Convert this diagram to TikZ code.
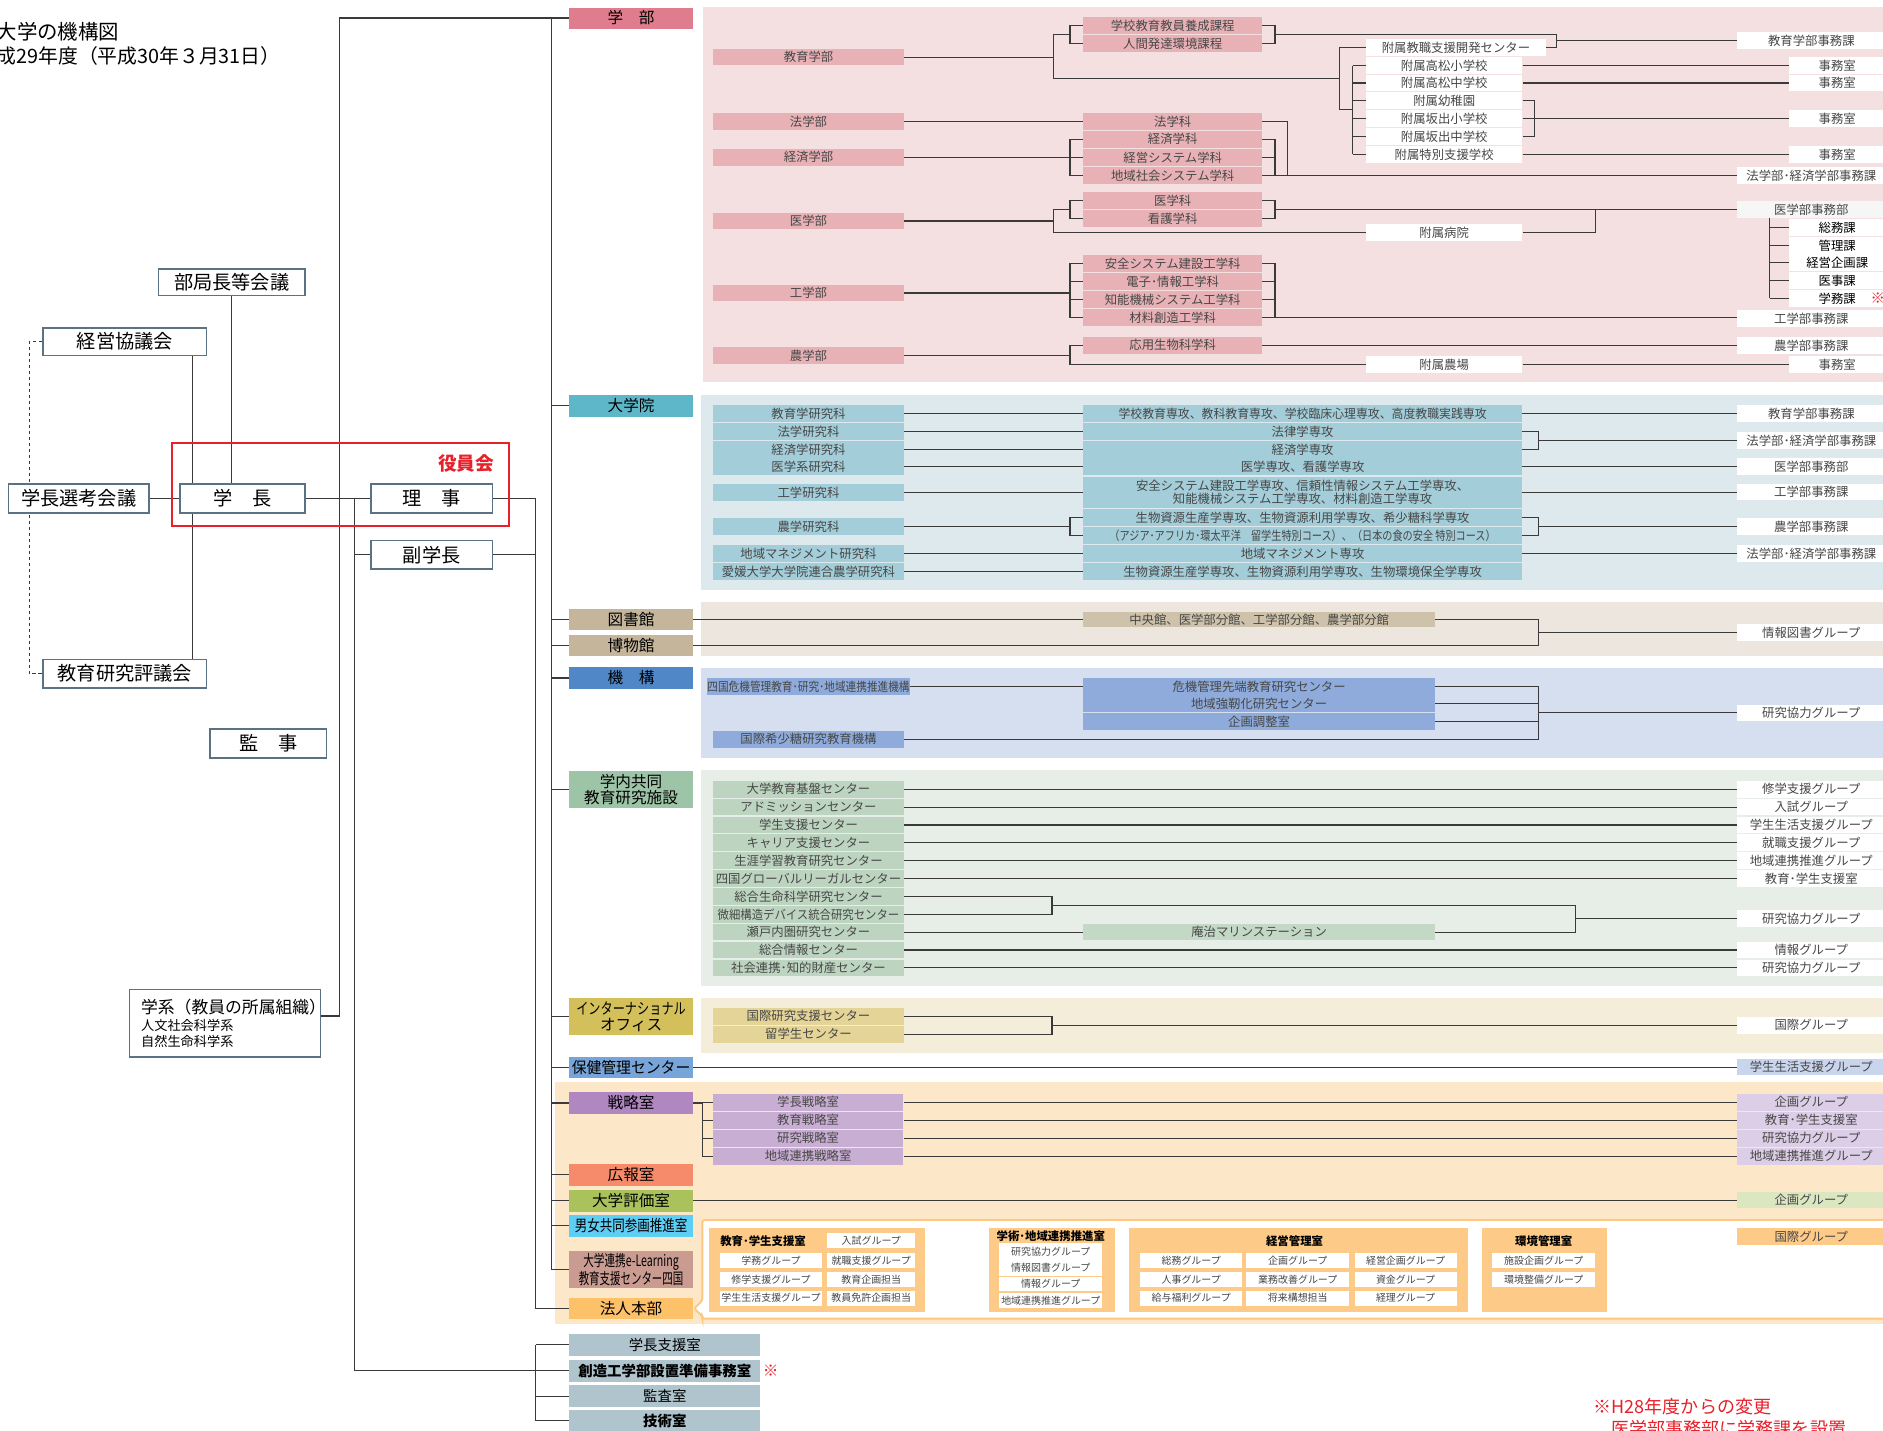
\documentclass[tikz,border=0pt]{standalone}
\usepackage{fontspec}
\setmainfont{Noto Sans CJK JP}
\usepackage{graphicx}
\newcommand\fsz[1]{\fontsize{#1}{#1}\selectfont}
\newcommand\nar[2]{\scalebox{#1}[1]{#2}}
\definecolor{frame}{HTML}{5B7282}
\definecolor{lncol}{HTML}{3A3A3A}
\definecolor{txt}{HTML}{474747}
\definecolor{redc}{HTML}{E8202A}
\definecolor{pinkbg}{HTML}{F5E0E1}
\definecolor{pinkhd}{HTML}{DF7C8D}
\definecolor{pinkc}{HTML}{E8B1B6}
\definecolor{offgrey}{HTML}{F6F6F6}
\definecolor{bluebg}{HTML}{DDE9ED}
\definecolor{tealhd}{HTML}{5EB7C9}
\definecolor{bluec}{HTML}{A3CDD9}
\definecolor{tanbg}{HTML}{EDE6DE}
\definecolor{tanhd}{HTML}{C4B59B}
\definecolor{tanc}{HTML}{CFC2AA}
\definecolor{kikobg}{HTML}{D6DFF0}
\definecolor{kikohd}{HTML}{4F87C7}
\definecolor{kikoc}{HTML}{8EABDB}
\definecolor{grnbg}{HTML}{E6EEE7}
\definecolor{grnhd}{HTML}{9DC4A6}
\definecolor{grnc}{HTML}{BDD5C0}
\definecolor{marc}{HTML}{C3D9C6}
\definecolor{ylwbg}{HTML}{F3EDD9}
\definecolor{ylwhd}{HTML}{D3C05A}
\definecolor{ylwc}{HTML}{E4D497}
\definecolor{hokhd}{HTML}{78A5D9}
\definecolor{hokc}{HTML}{C8D5ED}
\definecolor{orgbg}{HTML}{FDE7C9}
\definecolor{purhd}{HTML}{B087C1}
\definecolor{purc}{HTML}{C9AED4}
\definecolor{purr}{HTML}{DCCEE6}
\definecolor{salhd}{HTML}{F68B6C}
\definecolor{olvhd}{HTML}{A9C25B}
\definecolor{olvr}{HTML}{DCE6C0}
\definecolor{cyanhd}{HTML}{5ECEF4}
\definecolor{brnhd}{HTML}{C99B91}
\definecolor{orghd}{HTML}{FDC16A}
\definecolor{orgp}{HTML}{FDCA87}
\definecolor{orgln}{HTML}{FDC880}
\definecolor{greyc}{HTML}{AFC4CD}
\pgfdeclarelayer{back}
\pgfdeclarelayer{wires}
\pgfsetlayers{back,wires,main}
\tikzset{
  link/.style={draw=lncol, line width=0.9pt},
  topbox/.style={draw=frame, line width=1.3pt, fill=white, inner sep=0pt, minimum height=24pt, font=\fsz{16}},
  head/.style={fill=#1, inner sep=0pt, minimum width=103pt, minimum height=17.5pt, font=\fsz{13}, align=center},
  head/.default=white,
  cell/.style={fill=#1, inner sep=0pt, minimum height=13.9pt, font=\fsz{10.3}, text=txt},
  cell/.default=white,
  fac/.style={cell=#1, minimum width=159pt},
  fac/.default=white,
  dept/.style={cell=#1, minimum width=149pt},
  dept/.default=white,
  wide/.style={cell=#1, minimum width=365pt},
  wide/.default=white,
  midc/.style={cell=#1, minimum width=293pt},
  midc/.default=white,
  school/.style={cell=white, minimum width=130pt},
  office/.style={cell=#1, minimum width=124pt},
  office/.default=white,
  room/.style={cell=#1, minimum width=80pt},
  room/.default=white,
  greybox/.style={fill=greyc, inner sep=0pt, minimum width=159pt, minimum height=18pt, font=\fsz{12}},
  ptitle/.style={inner sep=0pt, font=\fsz{9.5}\bfseries},
  grp/.style={fill=white, inner sep=0pt, minimum height=12.2pt, font=\fsz{8.3}, text=txt},
}
\begin{document}
\begin{tikzpicture}[x=1pt,y=-1pt]
\useasboundingbox (0,0) rectangle (1568,1191);
\begin{pgfonlayer}{back}
\fill[white] (0,0) rectangle (1568,1191);
\fill[pinkbg] (585,6) rectangle (1568,318);
\fill[bluebg] (584,329) rectangle (1568,491);
\fill[tanbg] (584,501.6) rectangle (1568,546);
\fill[kikobg] (584,556.6) rectangle (1568,631.5);
\fill[grnbg] (584,641.2) rectangle (1568,820.8);
\fill[ylwbg] (584,831.1) rectangle (1568,876.6);
\fill[orgbg] (462.4,900.8) rectangle (1568,1102.8);
\draw[orgln, line width=1.6pt, fill=white, rounded corners=2pt] (1580,1015.9) -- (584.8,1015.9) -- (584.8,1083) -- (578,1089.5) -- (584.8,1096) -- (584.8,1098) -- (1580,1098);
\end{pgfonlayer}

% title
\node[anchor=west, font=\fsz{17}, inner sep=0pt] (title) at (-3,26) {大学の機構図};
\node[anchor=west, font=\fsz{16.5}, inner sep=0pt] (date) at (-3,47) {成29年度（平成30年３月31日）};

% executive boxes
\node[topbox, minimum width=122pt, minimum height=22pt] (bukyoku) at (193,235) {部局長等会議};
\node[topbox, minimum width=136pt, minimum height=23pt] (keiei) at (104,284.5) {経営協議会};
\node[topbox, minimum width=117pt] (senko) at (65.5,415) {学長選考会議};
\node[topbox, minimum width=104pt] (gakucho) at (202,415) {学　長};
\node[topbox, minimum width=101pt] (riji) at (359.5,415) {理　事};
\node[topbox, minimum width=101pt] (fuku) at (359.5,462) {副学長};
\node[topbox, minimum width=136pt] (hyogi) at (104,561) {教育研究評議会};
\node[topbox, minimum width=97pt] (kanji) at (223.5,619) {監　事};
\node[topbox, minimum width=159pt, minimum height=56pt, text width=140pt, align=left, font=\fsz{11}] (gakkei) at (187.5,852) {{\fsz{14}学系（教員の所属組織）}\\[3pt]人文社会科学系\\[2pt]自然生命科学系};
\draw[redc, line width=1.3pt] (143,369) rectangle (424,438);
\node[text=redc, font=\fsz{15.5}\bfseries, inner sep=0pt] (yakuin) at (388,386) {役員会};

% section heads
\node[head=pinkhd] (gakubu) at (525.5,15) {学　部};
\node[head=tealhd, minimum height=18pt] (daigakuin) at (525.5,338) {大学院};
\node[head=tanhd] (tosho) at (525.5,515.7) {図書館};
\node[head=tanhd, minimum height=18pt] (hakubutsu) at (525.5,537.4) {博物館};
\node[head=kikohd, minimum height=18pt] (kiko) at (525.5,564.6) {機　構};
\node[head=grnhd, minimum height=31pt] (gakunai) at (525.5,657.3) {学内共同\\教育研究施設};
\node[head=ylwhd, minimum height=31pt] (intl) at (525.5,846.5) {\nar{0.78}{インターナショナル}\\オフィス};
\node[head=hokhd] (hoken) at (525.5,888.8) {\nar{0.95}{保健管理センター}};
\node[head=purhd, minimum height=18pt] (senryaku) at (525.5,918.5) {戦略室};
\node[head=salhd, minimum height=18pt] (koho) at (525.5,978.3) {広報室};
\node[head=olvhd, minimum height=18pt] (hyoka) at (525.5,1000) {大学評価室};
\node[head=cyanhd, minimum height=18pt] (danjo) at (525.5,1020.8) {\nar{0.8}{男女共同参画推進室}};
\node[head=brnhd, minimum height=30.5pt] (elearn) at (525.5,1057) {\nar{0.68}{大学連携e-Learning}\\\nar{0.67}{教育支援センター四国}};
\node[head=orghd, minimum height=18pt] (houjin) at (525.5,1089.6) {法人本部};
\node[greybox] (shien) at (553.6,1119.9) {学長支援室};
\node[greybox, font=\fsz{12}\bfseries] (sozo) at (553.6,1141.5) {創造工学部設置準備事務室};
\node[greybox] (kansa) at (553.6,1162.6) {監査室};
\node[greybox, font=\fsz{12}\bfseries] (gijutsu) at (553.6,1183.2) {技術室};
\node[text=redc, font=\fsz{13}, inner sep=0pt] (kome1) at (641.8,1141) {※};

% faculties
\node[fac=pinkc] (kyoiku) at (673.25,47.5) {教育学部};
\node[fac=pinkc] (hogaku) at (673.25,101) {法学部};
\node[fac=pinkc] (keizai) at (673.25,131) {経済学部};
\node[fac=pinkc] (igaku) at (673.25,184) {医学部};
\node[fac=pinkc] (kogaku) at (673.25,244) {工学部};
\node[fac=pinkc] (nogaku) at (673.25,296) {農学部};
\node[dept=pinkc] (d1) at (976.5,21.4) {学校教育教員養成課程};
\node[dept=pinkc] (d2) at (976.5,36.2) {人間発達環境課程};
\node[dept=pinkc] (d3) at (976.5,101) {法学科};
\node[dept=pinkc] (d4) at (976.5,116) {経済学科};
\node[dept=pinkc] (d5) at (976.5,131) {経営システム学科};
\node[dept=pinkc] (d6) at (976.5,146) {地域社会システム学科};
\node[dept=pinkc] (d7) at (976.5,167) {医学科};
\node[dept=pinkc] (d8) at (976.5,182) {看護学科};
\node[dept=pinkc] (d9) at (976.5,219.5) {安全システム建設工学科};
\node[dept=pinkc] (d10) at (976.5,234.5) {電子･情報工学科};
\node[dept=pinkc] (d11) at (976.5,249.5) {知能機械システム工学科};
\node[dept=pinkc] (d12) at (976.5,264.5) {材料創造工学科};
\node[dept=pinkc] (d13) at (976.5,287.5) {応用生物科学科};
\node[school, minimum width=150pt] (s0) at (1212.4,39.7) {附属教職支援開発センター};
\node[school] (s1) at (1202.6,54.6) {附属高松小学校};
\node[school] (s2) at (1202.6,69.1) {附属高松中学校};
\node[school] (s3) at (1202.6,83.8) {附属幼稚園};
\node[school] (s4) at (1202.6,98.8) {附属坂出小学校};
\node[school] (s5) at (1202.6,113.8) {附属坂出中学校};
\node[school] (s6) at (1202.6,128.5) {附属特別支援学校};
\node[school] (byoin) at (1202.6,193.5) {附属病院};
\node[school] (nojo) at (1202.6,303.4) {附属農場};
\node[office] (o1) at (1508.3,33.8) {教育学部事務課};
\node[office] (o2) at (1508.3,146.3) {法学部･経済学部事務課};
\node[office=offgrey] (o3) at (1508.3,174.5) {医学部事務部};
\node[office] (o4) at (1508.3,265.5) {工学部事務課};
\node[office] (o5) at (1508.3,287.6) {農学部事務課};
\node[room] (j1) at (1529.9,54.6) {事務室};
\node[room] (j2) at (1529.9,69.1) {事務室};
\node[room] (j3) at (1529.9,98.8) {事務室};
\node[room] (j4) at (1529.9,128.5) {事務室};
\node[room] (j5) at (1529.9,303.4) {事務室};
\node[room, text=black, minimum height=14.5pt] (k1) at (1529.9,189.6) {総務課};
\node[room, text=black, minimum height=14.5pt] (k2a) at (1529.9,204.3) {管理課};
\node[room, text=black, minimum height=14.5pt] (k2b) at (1529.9,218.8) {経営企画課};
\node[room, text=black] (k3) at (1529.9,233.5) {医事課};
\node[room, text=black] (k4) at (1529.9,248.5) {学務課};
\node[text=redc, font=\fsz{12}, inner sep=0pt] (kome2) at (1563.7,248.5) {※};

% graduate school
\node[fac=bluec] (g1) at (673.25,344.2) {教育学研究科};
\node[fac=bluec] (g2) at (673.25,359.2) {法学研究科};
\node[fac=bluec] (g3) at (673.25,374.2) {経済学研究科};
\node[fac=bluec] (g4) at (673.25,388.6) {医学系研究科};
\node[fac=bluec] (g5) at (673.25,410) {工学研究科};
\node[fac=bluec] (g6) at (673.25,438.3) {農学研究科};
\node[fac=bluec] (g7) at (673.25,461) {地域マネジメント研究科};
\node[fac=bluec] (g8) at (673.25,476) {愛媛大学大学院連合農学研究科};
\node[wide=bluec] (m1) at (1084.7,344.2) {\nar{0.96}{学校教育専攻、教科教育専攻、学校臨床心理専攻、高度教職実践専攻}};
\node[wide=bluec] (m2) at (1084.7,359.2) {法律学専攻};
\node[wide=bluec] (m3) at (1084.7,374.2) {経済学専攻};
\node[wide=bluec] (m4) at (1084.7,388.6) {医学専攻、看護学専攻};
\node[wide=bluec, minimum height=26pt, align=center] (m5) at (1084.7,409.8) {安全システム建設工学専攻、信頼性情報システム工学専攻、\\知能機械システム工学専攻、材料創造工学専攻};
\node[wide=bluec] (m6) at (1084.7,430.8) {生物資源生産学専攻、生物資源利用学専攻、希少糖科学専攻};
\node[wide=bluec, minimum height=14.4pt] (m7) at (1084.7,446.1) {\nar{0.82}{（アジア･アフリカ･環太平洋　留学生特別コース）、（日本の食の安全 特別コース）}};
\node[wide=bluec] (m8) at (1084.7,461) {地域マネジメント専攻};
\node[wide=bluec] (m9) at (1084.7,476) {生物資源生産学専攻、生物資源利用学専攻、生物環境保全学専攻};
\node[office] (r1) at (1508.3,344.2) {教育学部事務課};
\node[office] (r2) at (1508.3,366.7) {法学部･経済学部事務課};
\node[office] (r3) at (1508.3,388.6) {医学部事務部};
\node[office] (r4) at (1508.3,409.8) {工学部事務課};
\node[office] (r5) at (1508.3,438.5) {農学部事務課};
\node[office] (r6) at (1508.3,461) {法学部･経済学部事務課};

% library, museum
\node[midc=tanc, minimum height=12.8pt] (libm) at (1048.5,515.7) {中央館、医学部分館、工学部分館、農学部分館};
\node[office] (jb) at (1508.3,526.6) {情報図書グループ};

% organizations
\node[fac=kikoc] (ka) at (673.25,571.9) {\nar{0.86}{四国危機管理教育･研究･地域連携推進機構}};
\node[fac=kikoc] (kb) at (673.25,615.6) {国際希少糖研究教育機構};
\node[midc=kikoc] (kc1) at (1048.5,571.9) {危機管理先端教育研究センター};
\node[midc=kikoc] (kc2) at (1048.5,585.7) {地域強靭化研究センター};
\node[midc=kikoc] (kc3) at (1048.5,600.7) {企画調整室};
\node[office] (kr) at (1508.3,593.6) {研究協力グループ};

% joint facilities
\node[fac=grnc] (c1) at (673.25,657.2) {大学教育基盤センター};
\node[fac=grnc] (c2) at (673.25,672.1) {アドミッションセンター};
\node[fac=grnc] (c3) at (673.25,687.0) {学生支援センター};
\node[fac=grnc] (c4) at (673.25,701.8) {キャリア支援センター};
\node[fac=grnc] (c5) at (673.25,716.7) {生涯学習教育研究センター};
\node[fac=grnc] (c6) at (673.25,731.6) {四国グローバルリーガルセンター};
\node[fac=grnc] (c7) at (673.25,746.5) {総合生命科学研究センター};
\node[fac=grnc] (c8) at (673.25,761.4) {\nar{0.92}{微細構造デバイス統合研究センター}};
\node[fac=grnc] (c9) at (673.25,776.2) {瀬戸内圏研究センター};
\node[fac=grnc] (c10) at (673.25,791.1) {総合情報センター};
\node[fac=grnc] (c11) at (673.25,806.0) {社会連携･知的財産センター};
\node[midc=marc] (cm) at (1048.5,776.2) {庵治マリンステーション};
\node[office] (f1) at (1508.3,657.2) {修学支援グループ};
\node[office] (f2) at (1508.3,672.1) {入試グループ};
\node[office] (f3) at (1508.3,687.0) {学生生活支援グループ};
\node[office] (f4) at (1508.3,701.8) {就職支援グループ};
\node[office] (f5) at (1508.3,716.7) {地域連携推進グループ};
\node[office] (f6) at (1508.3,731.6) {教育･学生支援室};
\node[office] (f7) at (1508.3,764.8) {研究協力グループ};
\node[office] (f8) at (1508.3,791.1) {情報グループ};
\node[office] (f9) at (1508.3,806.0) {研究協力グループ};

% international office, health
\node[fac=ylwc] (i1) at (673.25,846.2) {国際研究支援センター};
\node[fac=ylwc] (i2) at (673.25,861.2) {留学生センター};
\node[office] (ig) at (1508.3,853.7) {国際グループ};
\node[office=hokc] (hg) at (1508.3,888.6) {学生生活支援グループ};

% strategy rooms
\node[fac=purc, minimum width=158.5pt] (p1) at (672.95,917.8) {学長戦略室};
\node[fac=purc, minimum width=158.5pt] (p2) at (672.95,932.8) {教育戦略室};
\node[fac=purc, minimum width=158.5pt] (p3) at (672.95,947.8) {研究戦略室};
\node[fac=purc, minimum width=158.5pt] (p4) at (672.95,962.8) {地域連携戦略室};
\node[office=purr] (q1) at (1508.3,917.8) {企画グループ};
\node[office=purr] (q2) at (1508.3,932.8) {教育･学生支援室};
\node[office=purr] (q3) at (1508.3,947.8) {研究協力グループ};
\node[office=purr] (q4) at (1508.3,962.8) {地域連携推進グループ};
\node[office=olvr] (hq) at (1508.3,999.2) {企画グループ};
\node[office=orgp] (kg) at (1508.3,1029.7) {国際グループ};

% head office panels
\fill[orgp] (590,1022.8) rectangle (770.5,1092.2);
\fill[orgp] (823.6,1022.8) rectangle (928.2,1092.2);
\fill[orgp] (940,1022.8) rectangle (1222.4,1092.2);
\fill[orgp] (1234,1022.8) rectangle (1338,1092.2);
\node[ptitle] (pt1) at (635.4,1033.4) {教育･学生支援室};
\node[ptitle] (pt2) at (875,1029) {学術･地域連携推進室};
\node[ptitle] (pt3) at (1078,1033.4) {経営管理室};
\node[ptitle] (pt4) at (1285.5,1033.4) {環境管理室};
\node[grp, minimum width=73pt] (e1) at (725.5,1033) {入試グループ};
\node[grp, minimum width=85pt] (e2) at (642,1049.5) {学務グループ};
\node[grp, minimum width=73pt] (e3) at (725.5,1049.5) {就職支援グループ};
\node[grp, minimum width=85pt] (e4) at (642,1065.3) {修学支援グループ};
\node[grp, minimum width=73pt] (e5) at (725.5,1065.3) {教育企画担当};
\node[grp, minimum width=85pt] (e6) at (642,1081) {学生生活支援グループ};
\node[grp, minimum width=73pt] (e7) at (725.5,1081) {教員免許企画担当};
\node[grp, minimum width=86pt, minimum height=13.6pt] (a1) at (875,1042.2) {研究協力グループ};
\node[grp, minimum width=86pt, minimum height=13.6pt] (a2) at (875,1055.8) {情報図書グループ};
\node[grp, minimum width=86pt, minimum height=11.7pt] (a3) at (875,1069) {情報グループ};
\node[grp, minimum width=86pt] (a4) at (875,1083) {地域連携推進グループ};
\node[grp, minimum width=85pt] (b1) at (991.9,1049.5) {総務グループ};
\node[grp, minimum width=86pt] (b2) at (1080.65,1049.5) {企画グループ};
\node[grp, minimum width=85pt] (b3) at (1170.45,1049.5) {経営企画グループ};
\node[grp, minimum width=85pt] (b4) at (991.9,1065.3) {人事グループ};
\node[grp, minimum width=86pt] (b5) at (1080.65,1065.3) {業務改善グループ};
\node[grp, minimum width=85pt] (b6) at (1170.45,1065.3) {資金グループ};
\node[grp, minimum width=85pt] (b7) at (991.9,1081) {給与福利グループ};
\node[grp, minimum width=86pt] (b8) at (1080.65,1081) {将来構想担当};
\node[grp, minimum width=85pt] (b9) at (1170.45,1081) {経理グループ};
\node[grp, minimum width=86pt] (v1) at (1285.5,1049.5) {施設企画グループ};
\node[grp, minimum width=86pt] (v2) at (1285.5,1065.3) {環境整備グループ};

% notes
\node[anchor=west, text=redc, font=\fsz{15}, inner sep=0pt] (note1) at (1327,1171) {※H28年度からの変更};
\node[anchor=west, text=redc, font=\fsz{15}, inner sep=0pt] (note2) at (1342,1190) {医学部事務部に学務課を設置};

% junctions
\coordinate (dsh) at (24.4,0);
\coordinate (kv) at (160,0);
\coordinate (tA) at (283,15);
\coordinate (tB) at (459,15);
\coordinate (tC) at (446,415);
\coordinate (tD) at (295,415);
\coordinate (kA) at (877,28.8);
\coordinate (kB) at (877,65.5);
\coordinate (mA) at (877,174.5);
\coordinate (mB) at (877,193.5);
\coordinate (xb) at (891,0);
\coordinate (xc) at (1061.7,0);
\coordinate (xd) at (1071.8,0);
\coordinate (sJ) at (1115.5,91.3);
\coordinate (xf) at (1126.3,0);
\coordinate (xg) at (1277.9,0);
\coordinate (xh) at (1296.4,0);
\coordinate (xi) at (1328.4,0);
\coordinate (xj) at (1473.6,0);
\coordinate (xl) at (1281.3,0);
\coordinate (xm) at (876,0);
\coordinate (xn) at (1312.2,0);
\coordinate (cA) at (876,753.9);
\coordinate (xp) at (584.8,0);

\begin{pgfonlayer}{wires}
% executive
\draw[link, line width=0.8pt, dash pattern=on 3pt off 2pt] (keiei.west) -| (dsh |- senko) |- (hyogi.west);
\draw[link] (kv |- keiei.south) -- (kv |- hyogi.north);
\draw[link] (bukyoku.south) -- (bukyoku.south |- gakucho.north);
\draw[link] (senko) -- (gakucho);
\draw[link] (gakucho) -- (riji);
\draw[link] ([yshift=6pt]gakkei.east) -| (tA) -- (gakubu.west);
\draw[link] (tB) -- (tB |- elearn.west);
\foreach \h in {daigakuin,tosho,hakubutsu,kiko,gakunai,intl,hoken,senryaku,koho,hyoka,danjo,elearn}
  \draw[link] (tB |- \h.west) -- (\h.west);
\draw[link] (riji) -- (tC);
\draw[link] (fuku) -- (fuku -| tC);
\draw[link] (tC) -- (tC |- houjin.west) -- (houjin.west);
\draw[link] (fuku.west) -- (fuku.west -| tD);
\draw[link] (tD) |- (sozo.west);
\draw[link] (tC |- shien.west) -- (tC |- gijutsu.west);
\foreach \g in {shien,sozo,kansa,gijutsu}
  \draw[link] (tC |- \g.west) -- (\g.west);

% faculties
\draw[link] (kyoiku.east) -- (kyoiku.east -| kA);
\draw[link] (kA) -- (kB);
\draw[link] (kA) -- (kA -| xb);
\draw[link] (d1.west) -| (xb |- d2.west) -- (d2.west);
\draw[link] (d1.east) -| (xc |- d2.east) -- (d2.east);
\draw[link] (xc |- kA) -| (xh |- s0.east) -- (s0.east);
\draw[link] (xh |- o1.west) -- (o1.west);
\draw[link] (kB) -- (kB -| sJ);
\draw[link] (s0.west) -| (sJ) -- (sJ -| xf);
\draw[link] (xf |- s1.west) -- (xf |- s6.west);
\foreach \s in {s1,s2,s3,s4,s5,s6}
  \draw[link] (xf |- \s.west) -- (\s.west);
\draw[link] (s1.east) -- (j1.west);
\draw[link] (s2.east) -- (j2.west);
\draw[link] (s3.east) -| (xg |- s5.east) -- (s5.east);
\draw[link] (s4.east) -- (j3.west);
\draw[link] (s6.east) -- (j4.west);
\draw[link] (hogaku.east) -- (d3.west);
\draw[link] (d3.east) -| (xd |- d6.east);
\draw[link] (keizai.east) -- (keizai.east -| xb);
\draw[link] (d4.west) -| (xb |- d6.west) -- (d6.west);
\draw[link] (xb |- d5.west) -- (d5.west);
\draw[link] (d4.east) -| (xc |- d6.east);
\draw[link] (d5.east) -- (d5.east -| xc);
\draw[link] (d6.east) -- (d6.east -| o2.west);
\draw[link] (igaku.east) -- (igaku.east -| mA);
\draw[link] (mA) -- (mB) -- (byoin.west);
\draw[link] (mA) -- (mA -| xb);
\draw[link] (d7.west) -| (xb |- d8.west) -- (d8.west);
\draw[link] (d7.east) -| (xc |- d8.east) -- (d8.east);
\draw[link] (xc |- mA) -- (o3.west);
\draw[link] (byoin.east) -| (xi |- o3.west);
\draw[link] (xj |- o3.south) -- (xj |- k4.west);
\foreach \k in {k1,k2a,k2b,k3,k4}
  \draw[link] (xj |- \k.west) -- (\k.west);
\draw[link] (kogaku.east) -- (kogaku.east -| xb);
\draw[link] (d9.west) -| (xb |- d12.west) -- (d12.west);
\draw[link] (d9.east) -| (xc |- d12.east) -- (d12.east);
\foreach \d in {d10,d11} {
  \draw[link] (xb |- \d.west) -- (\d.west);
  \draw[link] (\d.east) -- (\d.east -| xc);
}
\draw[link] (d12.east) -- (d12.east -| o4.west);
\draw[link] (nogaku.east) -- (nogaku.east -| xb);
\draw[link] (d13.west) -| (xb |- nojo.west) -- (nojo.west);
\draw[link] (d13.east) -- (d13.east -| o5.west);
\draw[link] (nojo.east) -- (j5.west);

% graduate school
\foreach \a/\b in {g1/m1,g2/m2,g3/m3,g4/m4,g5/m5,g7/m8,g8/m9}
  \draw[link] (\a.east) -- (\a.east -| \b.west);
\draw[link] (g6.east) -- (g6.east -| xb);
\draw[link] (m6.west) -| (xb |- m7.west) -- (m7.west);
\draw[link] (m1.east) -- (m1.east -| r1.west);
\draw[link] (m2.east) -| (xl |- m3.east) -- (m3.east);
\draw[link] (xl |- r2.west) -- (r2.west);
\draw[link] (m4.east) -- (m4.east -| r3.west);
\draw[link] (m5.east) -- (m5.east -| r4.west);
\draw[link] (m6.east) -| (xl |- m7.east) -- (m7.east);
\draw[link] (xl |- r5.west) -- (r5.west);
\draw[link] (m8.east) -- (m8.east -| r6.west);

% library, museum, organizations
\draw[link] (tosho.east) -- (libm.west);
\draw[link] (libm.east) -| (xl |- hakubutsu.east) -- (hakubutsu.east);
\draw[link] (xl |- jb.west) -- (jb.west);
\draw[link] (ka.east) -- (kc1.west);
\draw[link] (kc1.east) -| (xl |- kb.east) -- (kb.east);
\draw[link] (kc2.east) -- (kc2.east -| xl);
\draw[link] (kc3.east) -- (kc3.east -| xl);
\draw[link] (xl |- kr.west) -- (kr.west);

% joint facilities
\foreach \a/\b in {c1/f1,c2/f2,c3/f3,c4/f4,c5/f5,c6/f6,c10/f8,c11/f9}
  \draw[link] (\a.east) -- (\a.east -| \b.west);
\draw[link] (c7.east) -| (xm |- c8.east) -- (c8.east);
\draw[link] (cA) -| (xn |- cm.east) -- (cm.east);
\draw[link] (c9.east) -- (cm.west);
\draw[link] (xn |- f7.west) -- (f7.west);
\draw[link] (i1.east) -| (xm |- i2.east) -- (i2.east);
\draw[link] (xm |- ig.west) -- (ig.west);
\draw[link] (hoken.east) -- (hoken.east -| hg.west);

% strategy and evaluation
\draw[link] (senryaku.east) -- (senryaku.east -| xp);
\draw[link] (p1.west) -| (xp |- p4.west) -- (p4.west);
\draw[link] (xp |- p2.west) -- (p2.west);
\draw[link] (xp |- p3.west) -- (p3.west);
\foreach \a/\b in {p1/q1,p2/q2,p3/q3,p4/q4}
  \draw[link] (\a.east) -- (\a.east -| \b.west);
\draw[link] (hyoka.east) -- (hyoka.east -| hq.west);
\end{pgfonlayer}
\end{tikzpicture}
\end{document}
